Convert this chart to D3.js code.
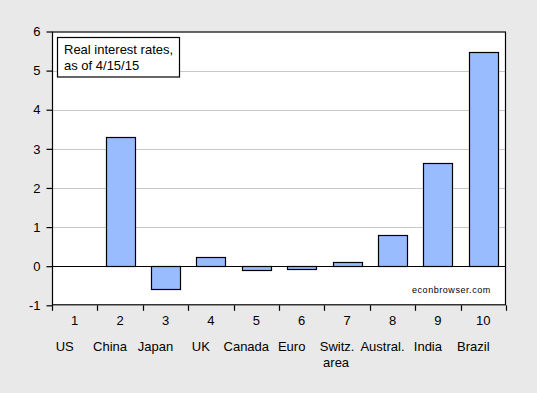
<!DOCTYPE html>
<html><head><meta charset="utf-8">
<script src="https://cdn.jsdelivr.net/npm/d3@7"></script>
<style>
html,body{margin:0;padding:0;background:#e9e9e9;}
svg{display:block;font-family:"Liberation Sans",Arial,sans-serif;}
</style></head>
<body>
<script>
const categories = [1,2,3,4,5,6,7,8,9,10];
const countries = [["US"],["China"],["Japan"],["UK"],["Canada"],["Euro"],["Switz.","area"],["Austral."],["India"],["Brazil"]];
const values = [0, 3.30, -0.59, 0.23, -0.10, -0.08, 0.10, 0.80, 2.63, 5.47];
const yTicks = [-1,0,1,2,3,4,5,6];
const legendLines = ["Real interest rates,", "as of 4/15/15"];
const watermark = "econbrowser.com";

const W = 537, H = 393;
const L = 52, R = 506, T = 31.5, B = 305.3;

const svg = d3.select("body").append("svg").attr("width", W).attr("height", H);
svg.append("rect").attr("width", W).attr("height", H).attr("fill", "#e9e9e9");

const x = d3.scaleBand().domain(categories).range([L, R]).paddingInner(0.36).paddingOuter(0.18);
const y = d3.scaleLinear().domain([-1, 6]).range([B, T]);

svg.append("rect").attr("x", L).attr("y", T).attr("width", R - L).attr("height", B - T).attr("fill", "#fff");

// gridlines
svg.append("g").selectAll("line").data(yTicks.filter(v => v > 0 && v < 6)).join("line")
  .attr("x1", L).attr("x2", R).attr("y1", d => Math.round(y(d)) + 0.5).attr("y2", d => Math.round(y(d)) + 0.5)
  .attr("stroke", "#c8c8c8").attr("stroke-width", 1);

// bars
svg.append("g").selectAll("rect").data(categories.map((c, i) => ({c, v: values[i]})).filter(d => d.v !== 0)).join("rect")
  .attr("x", d => Math.round(x(d.c)) + 0.5)
  .attr("width", Math.round(x.bandwidth()))
  .attr("y", d => Math.round(y(Math.max(0, d.v))) + 0.5)
  .attr("height", d => Math.abs(Math.round(y(d.v)) - Math.round(y(0))))
  .attr("fill", "#99bbff").attr("stroke", "#000").attr("stroke-width", 1.2);

// zero line
svg.append("line").attr("x1", L).attr("x2", R).attr("y1", Math.round(y(0)) + 0.5).attr("y2", Math.round(y(0)) + 0.5)
  .attr("stroke", "#000").attr("stroke-width", 1.2);

// frame
svg.append("rect").attr("x", L + 0.5).attr("y", T + 0.5).attr("width", R - L - 1).attr("height", B - T - 1)
  .attr("fill", "none").attr("stroke", "#000").attr("stroke-width", 1.2);

// y axis
const yAxis = svg.append("g").attr("transform", `translate(${L + 0.5},0)`)
  .call(d3.axisLeft(y).tickValues(yTicks).tickSize(6).tickPadding(6).tickFormat(d => String(d)));
yAxis.select(".domain").remove();
yAxis.selectAll("line").attr("stroke", "#000").attr("stroke-width", 1.2);
yAxis.selectAll("text").attr("font-size", 13).attr("fill", "#000")
  .attr("font-family", "'Liberation Sans',Arial,sans-serif");

// x ticks at band boundaries
const step = x.step();
const bounds = categories.map(c => x(c) - step * x.paddingInner() / 2).concat([x(categories[categories.length - 1]) + x.bandwidth() + step * x.paddingInner() / 2]);
svg.append("g").selectAll("line").data(bounds).join("line")
  .attr("x1", d => Math.round(d) + 0.5).attr("x2", d => Math.round(d) + 0.5)
  .attr("y1", B).attr("y2", B + 5.5).attr("stroke", "#000").attr("stroke-width", 1.2);

// number labels
svg.append("g").selectAll("text").data(categories).join("text")
  .attr("x", d => x(d) + x.bandwidth() / 2).attr("y", 325)
  .attr("text-anchor", "middle").attr("font-size", 13).attr("fill", "#000").text(d => d);

// country labels
const cl = svg.append("g").selectAll("text").data(categories.map((c, i) => ({c, lines: countries[i]}))).join("text")
  .attr("text-anchor", "middle").attr("font-size", 13).attr("fill", "#000");
cl.selectAll("tspan").data(d => d.lines.map((t, j) => ({t, j, c: d.c}))).join("tspan")
  .attr("x", d => x(d.c) + x.bandwidth() / 2 - 10 + (d.j ? -1 : 0)).attr("y", d => 351 + d.j * 16).text(d => d.t);

// legend
const lg = svg.append("g");
lg.append("rect").attr("x", 57.5).attr("y", 37.5).attr("width", 122).attr("height", 39.5)
  .attr("fill", "#fff").attr("stroke", "#000").attr("stroke-width", 1.2);
lg.selectAll("text").data(legendLines).join("text")
  .attr("x", 64).attr("y", (d, i) => 53.5 + i * 16).attr("font-size", 13).attr("fill", "#000").text(d => d);

// watermark
svg.append("text").attr("x", 412).attr("y", 293).attr("font-size", 9).attr("letter-spacing", 0.55)
  .attr("fill", "#000").text(watermark);
</script>
</body></html>
